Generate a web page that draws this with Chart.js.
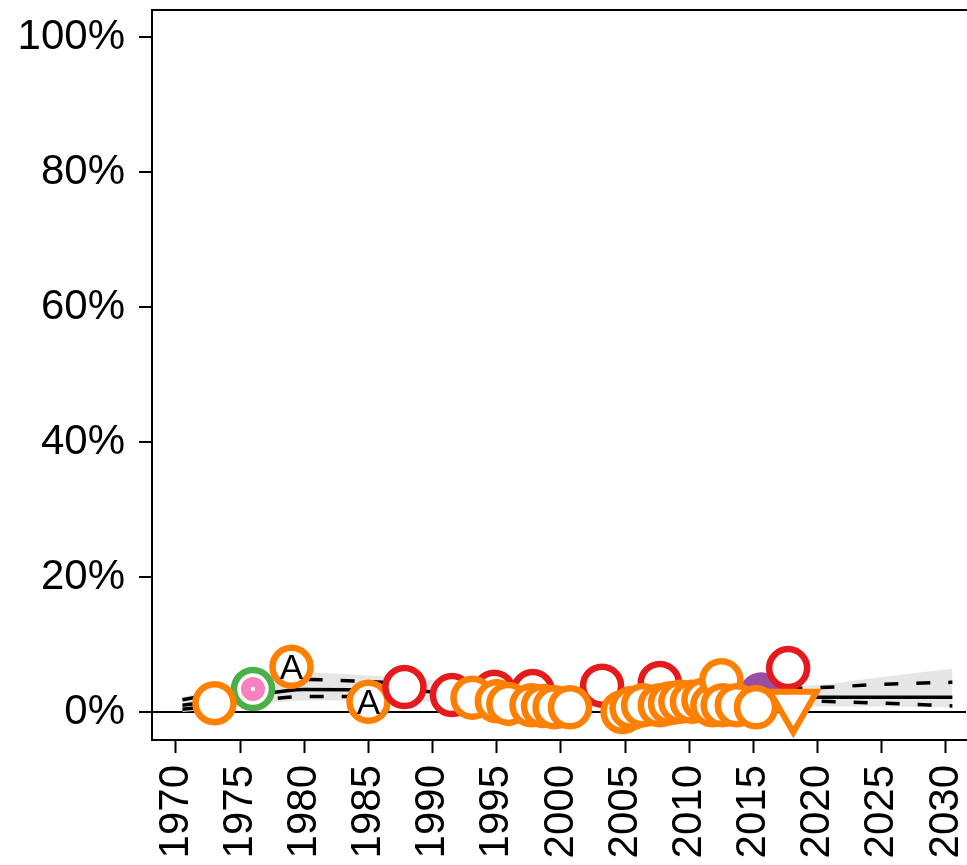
<!DOCTYPE html>
<html>
<head>
<meta charset="utf-8">
<script src="https://cdn.jsdelivr.net/npm/chart.js@4.4.0/dist/chart.umd.min.js"></script>
<style>
  html, body { margin: 0; padding: 0; background: #fff; }
  #wrap { width: 967px; height: 865px; }
</style>
</head>
<body>
<div id="wrap"><canvas id="shareChart" width="967" height="865"></canvas></div>
<script>
// tick labels
const xTicks = [1970, 1975, 1980, 1985, 1990, 1995, 2000, 2005, 2010, 2015, 2020, 2025, 2030];
const yTicks = [0, 20, 40, 60, 80, 100];

// fitted trend + interval
const fitYear   = [1970.5, 1975, 1980, 1985, 1990, 1995, 2000, 2005, 2010, 2015, 2020, 2025, 2030.5];
const fitMid    = [1.0, 2.1, 3.35, 3.3, 3.0, 2.8, 2.6, 2.5, 2.4, 2.3, 2.2, 2.2, 2.2];
const fitUpper  = [1.8, 3.4, 4.8, 4.5, 4.0, 3.6, 3.4, 3.3, 3.3, 3.4, 3.6, 4.1, 4.4];
const fitLower  = [0.4, 1.3, 2.3, 2.3, 2.1, 2.0, 1.9, 1.8, 1.8, 1.7, 1.6, 1.3, 0.9];
const bandHigh  = [2.2, 4.2, 5.8, 5.4, 4.7, 4.2, 3.8, 3.6, 3.5, 3.6, 4.0, 5.2, 6.4];
const bandLow   = [0.0, 0.8, 1.7, 1.7, 1.5, 1.3, 1.2, 1.1, 1.0, 0.9, 0.8, 0.8, 0.7];

// observations
const orangeYear  = [1973.0, 1993.1, 1995.0, 1995.9, 1997.7, 1998.6, 1999.5, 2000.7, 2004.8, 2005.5, 2006.4, 2007.7, 2008.5, 2009.3, 2010.2, 2011.1, 2011.8, 2012.5, 2012.6, 2013.7, 2015.2];
const orangeShare = [1.3, 2.1, 1.6, 1.2, 1.0, 0.9, 0.7, 0.7, 0.0, 0.6, 1.0, 1.0, 1.3, 1.5, 1.5, 1.8, 1.0, 4.7, 1.0, 1.0, 0.7];
const redYear     = [1987.8, 1991.5, 1994.8, 1997.8, 2003.2, 2007.7, 2017.7];
const redShare    = [3.7, 2.5, 3.0, 3.1, 3.9, 4.3, 6.5];
const aYear       = [1979.0, 1985.0];
const aShare      = [6.7, 1.5];
const greenYear   = [1976.0];
const greenShare  = [3.4];
const purpleYear  = [2015.6];
const purpleShare = [2.6];
const triYear     = [2018.1];
const triShare    = [1.0];

const ORANGE = '#FF7F00', RED = '#E41A1C', GREEN = '#4DAF4A', PINK = '#F781BF', PURPLE = '#984EA3';

function pts(xs, ys) {
    return xs.map((x, i) => ({x: x, y: ys[i]}));
}

Chart.defaults.font.family = "'Liberation Sans', Arial, sans-serif";
Chart.defaults.color = '#000';

// box round the plot (left, top, bottom)
const boxPlugin = {
    id: 'box',
    beforeDatasetsDraw(chart) {
        const a = chart.chartArea, ctx = chart.ctx;
        ctx.save();
        ctx.strokeStyle = '#000';
        ctx.lineWidth = 2;
        ctx.beginPath();
        ctx.moveTo(chart.width, a.top);
        ctx.lineTo(a.left, a.top);
        ctx.lineTo(a.left, a.bottom);
        ctx.lineTo(chart.width, a.bottom);
        ctx.stroke();
        ctx.restore();
    }
};

// letter "A" inside the A markers
const letterPlugin = {
    id: 'letters',
    afterDatasetDraw(chart, args) {
        if (chart.data.datasets[args.index].label !== 'A') return;
        const ctx = chart.ctx;
        const size = 35;
        ctx.save();
        ctx.fillStyle = '#000';
        ctx.font = size + "px 'Liberation Sans', Arial, sans-serif";
        ctx.textAlign = 'center';
        ctx.textBaseline = 'alphabetic';
        args.meta.data.forEach(p => {
            ctx.fillText('A', p.x, p.y + size * 0.716 / 2);
        });
        ctx.restore();
    }
};

const circle = (label, xs, ys, border, fill, r, bw) => ({
    label: label,
    data: pts(xs, ys),
    pointStyle: 'circle',
    pointRadius: r,
    pointBorderWidth: bw,
    pointBorderColor: border,
    pointBackgroundColor: fill,
    showLine: false
});

const line = (label, ys, dash) => ({
    label: label,
    data: pts(fitYear, ys),
    showLine: true,
    pointRadius: 0,
    borderColor: '#000',
    borderWidth: 3.5,
    borderDash: dash,
    cubicInterpolationMode: 'monotone',
    fill: false
});

new Chart(document.getElementById('shareChart'), {
    type: 'scatter',
    data: {
        datasets: [
            {
                label: 'tri',
                data: pts(triYear, triShare),
                pointStyle: 'triangle',
                rotation: 180,
                pointRadius: 27,
                pointBorderWidth: 6,
                pointBorderColor: ORANGE,
                pointBackgroundColor: '#fff'
            },
            circle('orange', orangeYear, orangeShare, ORANGE, '#fff', 19, 6.5),
            circle('red', redYear, redShare, RED, '#fff', 19, 6.5),
            circle('A', aYear, aShare, ORANGE, '#fff', 19, 6.5),
            circle('purple', purpleYear, purpleShare, PURPLE, PURPLE, 19, 6.5),
            circle('dot', greenYear, greenShare, '#fff', '#fff', 2.2, 0),
            circle('pink', greenYear, greenShare, PINK, PINK, 12, 0),
            circle('green', greenYear, greenShare, GREEN, '#fff', 19, 6.5),
            line('fit', fitMid, []),
            line('upper', fitUpper, [14, 18]),
            line('lower', fitLower, [14, 18]),
            {
                label: 'bandHigh',
                data: pts(fitYear, bandHigh),
                showLine: true,
                pointRadius: 0,
                borderWidth: 0,
                borderColor: 'rgba(0,0,0,0)',
                backgroundColor: '#e6e6e6',
                cubicInterpolationMode: 'monotone',
                fill: '+1'
            },
            {
                label: 'bandLow',
                data: pts(fitYear, bandLow),
                showLine: true,
                pointRadius: 0,
                borderWidth: 0,
                borderColor: 'rgba(0,0,0,0)',
                cubicInterpolationMode: 'monotone',
                fill: false
            }
        ]
    },
    options: {
        responsive: false,
        animation: false,
        layout: { autoPadding: false, padding: { top: 10, right: 1, left: 0, bottom: 0 } },
        plugins: {
            legend: { display: false },
            tooltip: { enabled: false }
        },
        scales: {
            x: {
                type: 'linear',
                min: 1968.13,
                max: 2031.56,
                afterBuildTicks: s => { s.ticks = xTicks.map(v => ({value: v})); },
                afterFit: s => { s.height = 125; s.paddingLeft = 0; s.paddingRight = 0; },
                border: { display: false },
                grid: {
                    drawOnChartArea: false,
                    tickLength: 13,
                    tickColor: '#000',
                    tickWidth: 2
                },
                ticks: {
                    autoSkip: false,
                    minRotation: 90,
                    maxRotation: 90,
                    padding: 12,
                    color: '#000',
                    font: { size: 42 },
                    callback: v => String(v)
                }
            },
            y: {
                type: 'linear',
                min: -4.15,
                max: 104,
                afterBuildTicks: s => { s.ticks = yTicks.map(v => ({value: v})); },
                afterFit: s => { s.width = 152; s.paddingTop = 0; s.paddingBottom = 0; },
                border: { display: false },
                grid: {
                    color: c => (c.tick && c.tick.value === 0) ? '#000' : 'rgba(0,0,0,0)',
                    lineWidth: 2,
                    tickLength: 13,
                    tickColor: '#000',
                    tickWidth: 2
                },
                ticks: {
                    padding: 14,
                    color: '#000',
                    font: { size: 42 },
                    callback: v => v + '%'
                }
            }
        }
    },
    plugins: [boxPlugin, letterPlugin]
});
</script>
</body>
</html>
